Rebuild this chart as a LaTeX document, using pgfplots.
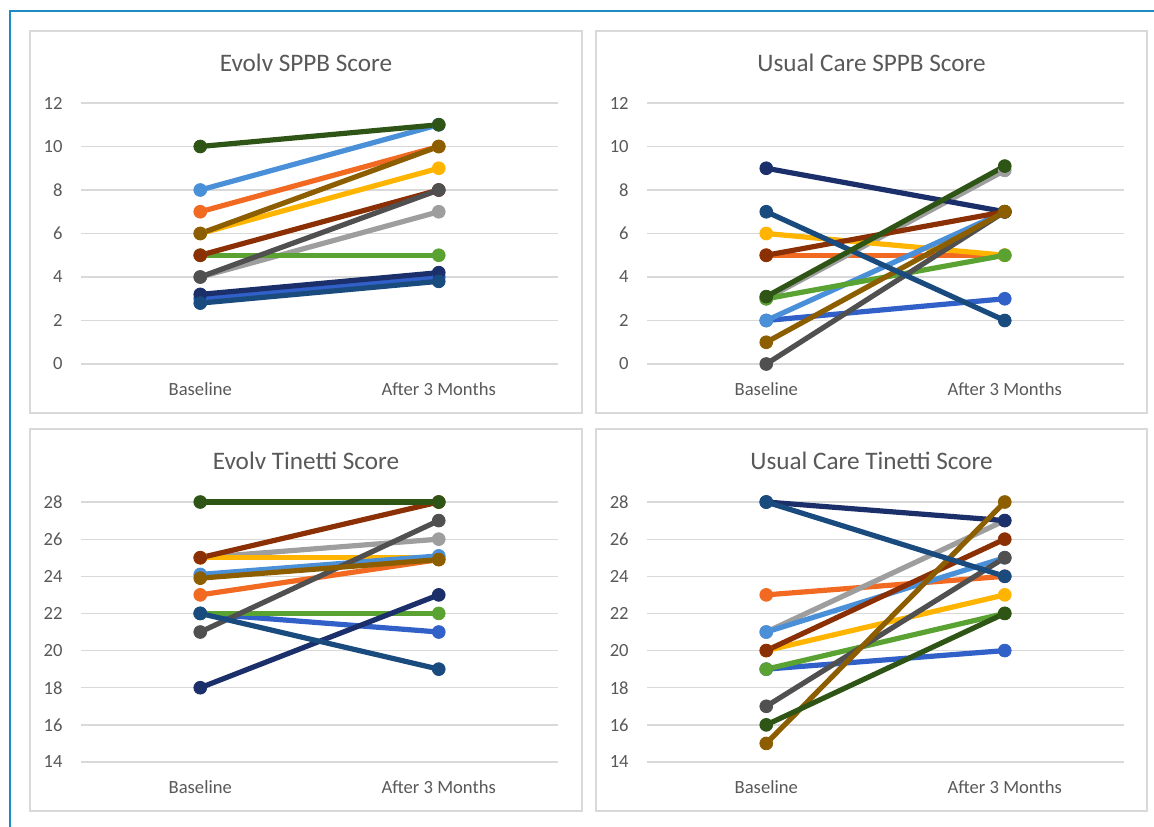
\documentclass[border=0pt]{standalone}
\usepackage{pgfplots}
\pgfplotsset{compat=1.18}
\usepackage{pgfplotstable}
\usepackage{fontspec}
\setmainfont{Carlito}
\definecolor{c1}{HTML}{3060C8}
\definecolor{c2}{HTML}{F26A22}
\definecolor{c3}{HTML}{9E9E9E}
\definecolor{c4}{HTML}{FFB400}
\definecolor{c5}{HTML}{4A90D9}
\definecolor{c6}{HTML}{5AA332}
\definecolor{c7}{HTML}{1B2F6B}
\definecolor{c8}{HTML}{8B3005}
\definecolor{c9}{HTML}{505050}
\definecolor{c10}{HTML}{8C5E00}
\definecolor{c11}{HTML}{1A4B7E}
\definecolor{c12}{HTML}{2E5516}
\definecolor{gridc}{HTML}{D9D9D9}
\definecolor{boxc}{HTML}{D9D9D9}
\definecolor{tickc}{HTML}{595959}
\definecolor{framec}{HTML}{1E8BC3}

\pgfplotstableread{
x s1 s2 s3 s4 s5 s6 s7 s8 s9 s10 s11 s12
0 3.0 7 4 6 8 5 3.2 5 4 6 2.8 10
1 4.0 10 7 9 11 5 4.2 8 8 10 3.8 11
}\evolvsppb
\pgfplotstableread{
x s1 s2 s3 s4 s5 s6 s7 s8 s9 s10 s11 s12
0 2 5 3 6 2 3 9 5 0 1 7 3.1
1 3 5 8.9 5 7 5 7 7 7 7 2 9.1
}\usualsppb
\pgfplotstableread{
x s1 s2 s3 s4 s5 s6 s7 s8 s9 s10 s11 s12
0 22 23 25 25 24.1 22 18 25 21 23.9 22 28
1 21 24.9 26 25 25.1 22 23 28 27 24.9 19 28
}\evolvtin
\pgfplotstableread{
x s1 s2 s3 s4 s5 s6 s7 s8 s9 s10 s11 s12
0 19 23 21 20 21 19 28 20 17 15 28 16
1 20 24 27 23 25 22 27 26 25 28 24 22
}\usualtin

\pgfplotsset{
 panel/.style={
  scale only axis, width=238.5pt, anchor=south west,
  xmin=-0.5, xmax=1.5, xtick={0,1}, xticklabels={Baseline, After 3 Months},
  axis line style={draw=none}, major tick length=0pt,
  ymajorgrids, grid style={color=gridc, line width=0.65pt},
  tick label style={font=\fontsize{9.3}{11}\selectfont, text=tickc},
  yticklabel style={anchor=east, inner sep=0pt, xshift=-9pt},
  xticklabel style={anchor=base, inner sep=0pt, yshift=-15.5pt},
  /pgf/number format/assume math mode=true,
  clip=false,
 },
 sppb/.style={panel, height=130.5pt, ymin=0, ymax=12, ytick={0,2,...,12}},
 tin/.style={panel, height=130pt, ymin=14, ymax=28, ytick={14,16,...,28}},
 ser/.style={color=#1, line width=2.6pt, mark=*, mark size=3.2pt, mark options={solid, line width=0.4pt, fill=#1}},
}

\begin{document}
\begin{tikzpicture}
\useasboundingbox (0,0) rectangle (577pt,413pt);
\fill[white] (0,0) rectangle (577pt,413pt);
\draw[framec, line width=1.1pt] (5pt,-5pt) -- (5pt,407.5pt) -- (585pt,407.5pt);
\draw[boxc, line width=0.75pt] (15pt,206.5pt) rectangle (291pt,397.5pt);
\draw[boxc, line width=0.75pt] (298pt,206.5pt) rectangle (573.5pt,397.5pt);
\draw[boxc, line width=0.75pt] (15pt,7.5pt) rectangle (291pt,198.5pt);
\draw[boxc, line width=0.75pt] (298pt,7.5pt) rectangle (573.5pt,198.5pt);

\begin{axis}[sppb, at={(40.5pt,231pt)}]
\pgfplotsinvokeforeach{1,...,12}{\addplot[ser=c#1] table[x=x,y=s#1]{\evolvsppb};}
\end{axis}
\begin{axis}[sppb, at={(323.5pt,231pt)}]
\pgfplotsinvokeforeach{1,...,12}{\addplot[ser=c#1] table[x=x,y=s#1]{\usualsppb};}
\end{axis}
\begin{axis}[tin, at={(40.5pt,32pt)}]
\pgfplotsinvokeforeach{1,...,12}{\addplot[ser=c#1] table[x=x,y=s#1]{\evolvtin};}
\end{axis}
\begin{axis}[tin, at={(323.5pt,32pt)}]
\pgfplotsinvokeforeach{1,...,12}{\addplot[ser=c#1] table[x=x,y=s#1]{\usualtin};}
\end{axis}

\begin{scope}[every node/.style={anchor=base, inner sep=0pt, text=tickc, font=\fontsize{12.6}{15}\selectfont}]
\node at (153pt,377.15pt) {Evolv SPPB Score};
\node at (435.75pt,377.15pt) {Usual Care SPPB Score};
\node at (153pt,178.15pt) {Evolv Tinetti Score};
\node at (435.75pt,178.15pt) {Usual Care Tinetti Score};
\end{scope}
\end{tikzpicture}
\end{document}
